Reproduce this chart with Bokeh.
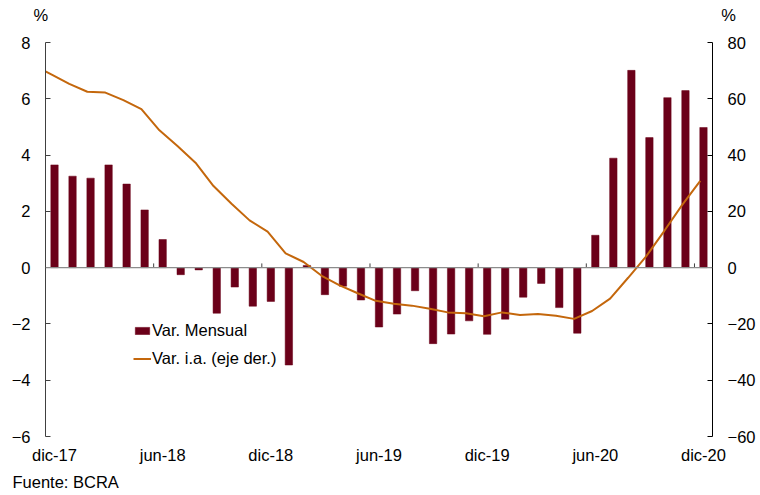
import numpy as np
from bokeh.plotting import figure
from bokeh.models import (Range1d, LinearAxis, FixedTicker, Span, Legend, LegendItem, Title)
from bokeh.embed import file_html
from bokeh.resources import INLINE

# ---- data ----
tick_labels = ["dic-17", "jun-18", "dic-18", "jun-19", "dic-19", "jun-20", "dic-20"]
# Var. mensual (%), dic-17 .. dic-20
var_mensual = [3.65, 3.25, 3.18, 3.65, 2.97, 2.05, 1.00, -0.25, -0.08, -1.62, -0.69, -1.37,
               -1.20, -3.46, 0.08, -0.96, -0.66, -1.15, -2.11, -1.65, -0.82, -2.70, -2.36, -1.89,
               -2.37, -1.83, -1.05, -0.56, -1.42, -2.33, 1.15, 3.89, 7.01, 4.62, 6.04, 6.29, 4.98]
# Var. i.a. (%), nov-17 .. dic-20 (eje der.)
var_ia = [72.0, 68.7, 65.3, 62.5, 62.2, 59.5, 56.3, 48.8, 43.2, 37.3, 29.0, 22.7, 16.8, 12.8,
          5.1, 2.0, -2.9, -6.3, -9.1, -11.8, -12.8, -13.5, -14.6, -15.9, -16.2, -17.3,
          -15.9, -16.8, -16.5, -17.1, -18.2, -15.4, -11.0, -3.6, 4.0, 13.0, 22.3, 30.8]
left_ticks = [-6, -4, -2, 0, 2, 4, 6, 8]
right_ticks = [-60, -40, -20, 0, 20, 40, 60, 80]

n = len(var_mensual)
bar_x = np.arange(n) + 0.5
line_x = np.arange(-1, n) + 0.5 - 0.18

FONT = "Liberation Sans"
FS = "16.5px"
BAR_C = "#6B0019"
LINE_C = "#C4670C"
NB = "\u00a0"

W, H = 758, 494
p = figure(width=W, height=H, output_backend="svg", toolbar_location=None,
           x_range=Range1d(0, n), y_range=Range1d(-6, 8),
           min_border_left=45, min_border_right=40, min_border_top=42, min_border_bottom=58)
p.outline_line_color = None
p.grid.grid_line_color = None
p.background_fill_color = "white"

p.extra_y_ranges = {"r": Range1d(-60, 80)}

bars = p.vbar(x=bar_x, top=var_mensual, width=0.41, fill_color=BAR_C, line_color=BAR_C, line_width=0.5)
line = p.line(x=line_x, y=var_ia, y_range_name="r", line_color=LINE_C, line_width=2)

# zero axis line and category ticks
p.add_layout(Span(location=0, dimension="width", line_color="#8c8c8c", line_width=1.2))
tick_pos = np.arange(6, n, 6)
p.segment(x0=tick_pos, x1=tick_pos, y0=0, y1=0.15, line_color="#404040", line_width=1)

# bottom axis (labels only)
xa = p.xaxis[0]
xa.ticker = FixedTicker(ticks=list(bar_x[::6]))
xa.major_label_overrides = {float(v): t for v, t in zip(bar_x[::6], tick_labels)}
xa.axis_line_color = None
xa.major_tick_line_color = None
xa.minor_tick_line_color = None
xa.major_label_standoff = 3
xa.major_label_text_font = FONT
xa.major_label_text_font_size = FS
xa.major_label_text_color = "black"

# left axis
ya = p.yaxis[0]
ya.ticker = FixedTicker(ticks=left_ticks)
ya.major_tick_in = 5
ya.major_tick_out = 0
ya.minor_tick_line_color = None
ya.axis_line_color = "#404040"
ya.major_tick_line_color = "#404040"
ya.major_label_standoff = 15
ya.major_label_text_font = FONT
ya.major_label_text_font_size = FS
ya.major_label_text_color = "black"

# right axis
ra = LinearAxis(y_range_name="r", ticker=FixedTicker(ticks=right_ticks))
ra.major_tick_in = 5
ra.major_tick_out = 0
ra.minor_tick_line_color = None
ra.axis_line_color = "black"
ra.major_tick_line_color = "black"
ra.major_label_standoff = 15
ra.major_label_text_font = FONT
ra.major_label_text_font_size = FS
ra.major_label_text_color = "black"
p.add_layout(ra, "right")

# "%" unit labels over both y axes (top axis carrying only two labels)
unit_pos = [0.001, n - 0.001]
ta = LinearAxis(ticker=FixedTicker(ticks=unit_pos))
ta.major_label_overrides = {unit_pos[0]: "%" + NB * 2, unit_pos[1]: NB * 7 + "%"}
ta.axis_line_color = None
ta.major_tick_line_color = None
ta.minor_tick_line_color = None
ta.major_label_standoff = 13
ta.major_label_text_font = FONT
ta.major_label_text_font_size = FS
ta.major_label_text_color = "black"
p.add_layout(ta, "above")

# source note below the x axis
src = Title(text="Fuente: BCRA", align="left", offset=-33, standoff=8,
            text_font=FONT, text_font_size=FS, text_font_style="normal", text_color="black")
p.add_layout(src, "below")

legend = Legend(items=[LegendItem(label="Var. Mensual", renderers=[bars]),
                       LegendItem(label="Var. i.a. (eje der.)", renderers=[line])],
                location=(88, 68), padding=0, margin=0, spacing=9,
                glyph_width=18, glyph_height=9, label_standoff=1,
                label_text_font=FONT, label_text_font_size=FS, label_text_color="black",
                border_line_color=None, background_fill_alpha=0)
p.add_layout(legend, "center")

open("out.html", "w").write(file_html(p, INLINE))
